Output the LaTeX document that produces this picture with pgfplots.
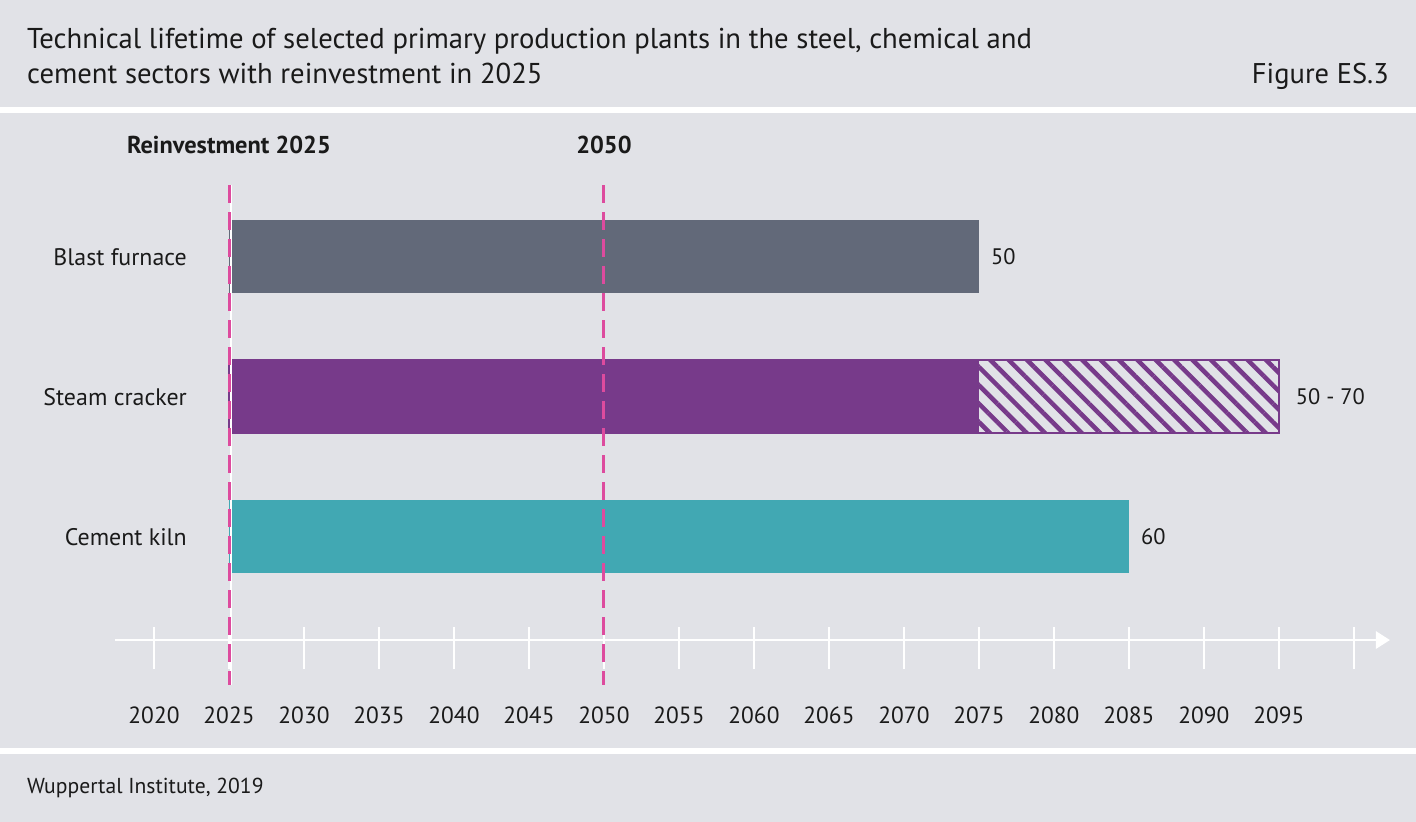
\documentclass[border=0pt]{standalone}
\usepackage{fontspec}
\setmainfont{PT Sans}
\usepackage{pgfplots}
\pgfplotsset{compat=1.18}
\usetikzlibrary{arrows.meta,patterns.meta}

\definecolor{bg}{HTML}{E1E2E7}
\definecolor{furnace}{HTML}{626979}
\definecolor{cracker}{HTML}{773A8A}
\definecolor{kiln}{HTML}{41A8B3}
\definecolor{marker}{HTML}{DD4B9E}
\definecolor{ink}{HTML}{1A1A1A}

\begin{document}
\begin{tikzpicture}
\fill[bg] (0bp,0bp) rectangle (1416bp,822bp);
\useasboundingbox (0bp,0bp) rectangle (1416bp,822bp);
\fill[white] (0bp,709bp) rectangle (1416bp,715bp);
\fill[white] (0bp,68bp) rectangle (1416bp,74bp);

% title block
\node[anchor=base west, inner sep=0pt, text=ink, font=\fontsize{28.8}{34}\selectfont] at (27bp,773bp)
  {Technical lifetime of selected primary production plants in the steel, chemical and};
\node[anchor=base west, inner sep=0pt, text=ink, font=\fontsize{28.8}{34}\selectfont] at (27bp,738bp)
  {cement sectors with reinvestment in 2025};
\node[anchor=base east, inner sep=0pt, text=ink, font=\fontsize{28.6}{34}\selectfont] at (1389bp,738bp)
  {Figure ES.3};
\node[anchor=base west, inner sep=0pt, text=ink, font=\fontsize{21.7}{26}\selectfont] at (27bp,29bp)
  {Wuppertal Institute, 2019};

% x is years after 2025 (so bars start at 0), labels give the calendar years
\begin{axis}[
    at={(229bp,285bp)}, anchor=origin,
    scale only axis, width=1275bp, height=455bp,
    xmin=-7.6, xmax=77.4, ymin=-0.736, ymax=2.514,
    clip=false,
    axis x line=bottom, axis y line=left,
    x axis line style={white, line width=2.7bp, -{Triangle[length=14bp,width=17bp]}},
    y axis line style={draw=none},
    xtick={-5,0,...,75,80},
    xticklabels={2020,2025,2030,2035,2040,2045,2050,2055,2060,2065,2070,2075,2080,2085,2090,2095,},
    xtick align=center, major tick length=42bp,
    xtick style={white, line width=2.7bp, yshift=-8bp},
    xticklabel style={font=\fontsize{23.5}{28}\selectfont, text=ink, anchor=north, inner sep=0pt, yshift=-46bp},
    ytick={0,1,2},
    yticklabels={Cement kiln,Steam cracker,Blast furnace},
    ytick style={draw=none},
    yticklabel style={font=\fontsize{24}{29}\selectfont, text=ink, anchor=east, inner sep=0pt, xshift=114bp},
    xbar, bar shift=0pt, bar width=73bp,
    every node near coord/.append style={font=\fontsize{22.5}{27}\selectfont, text=ink, anchor=west, inner sep=0pt, xshift=12bp},
]

% hatched range 50-70 years, solid part is drawn over it
\addplot[draw=cracker, line width=2bp,
    pattern={Lines[angle=-45,distance=13bp,line width=4.5bp]}, pattern color=cracker,
    point meta=explicit symbolic, nodes near coords,
    every node near coord/.append style={xshift=4bp}]
    coordinates {(70,1) [50 - 70]};
\addplot[draw=none, fill=cracker] coordinates {(50,1)};
\addplot[draw=none, fill=furnace, point meta=explicit symbolic, nodes near coords]
    coordinates {(50,2) [50]};
\addplot[draw=none, fill=kiln, point meta=explicit symbolic, nodes near coords]
    coordinates {(60,0) [60]};

% reinvestment and 2050 markers
\addplot[sharp plot, white, line width=2bp, xshift=2bp] coordinates {(0,-1.057) (0,2.514)};
\addplot[sharp plot, marker, line width=3bp, dash pattern=on 18bp off 9bp] coordinates {(0,2.514) (0,-1.057)};
\addplot[sharp plot, marker, line width=3bp, dash pattern=on 18bp off 9bp] coordinates {(25,2.514) (25,-1.057)};

\node[anchor=base, inner sep=0pt, text=ink, font=\bfseries\fontsize{24.5}{29}\selectfont] at (axis cs:0,2.74) {Reinvestment 2025};
\node[anchor=base, inner sep=0pt, text=ink, font=\bfseries\fontsize{24.5}{29}\selectfont] at (axis cs:25,2.74) {2050};
\end{axis}
\end{tikzpicture}
\end{document}
